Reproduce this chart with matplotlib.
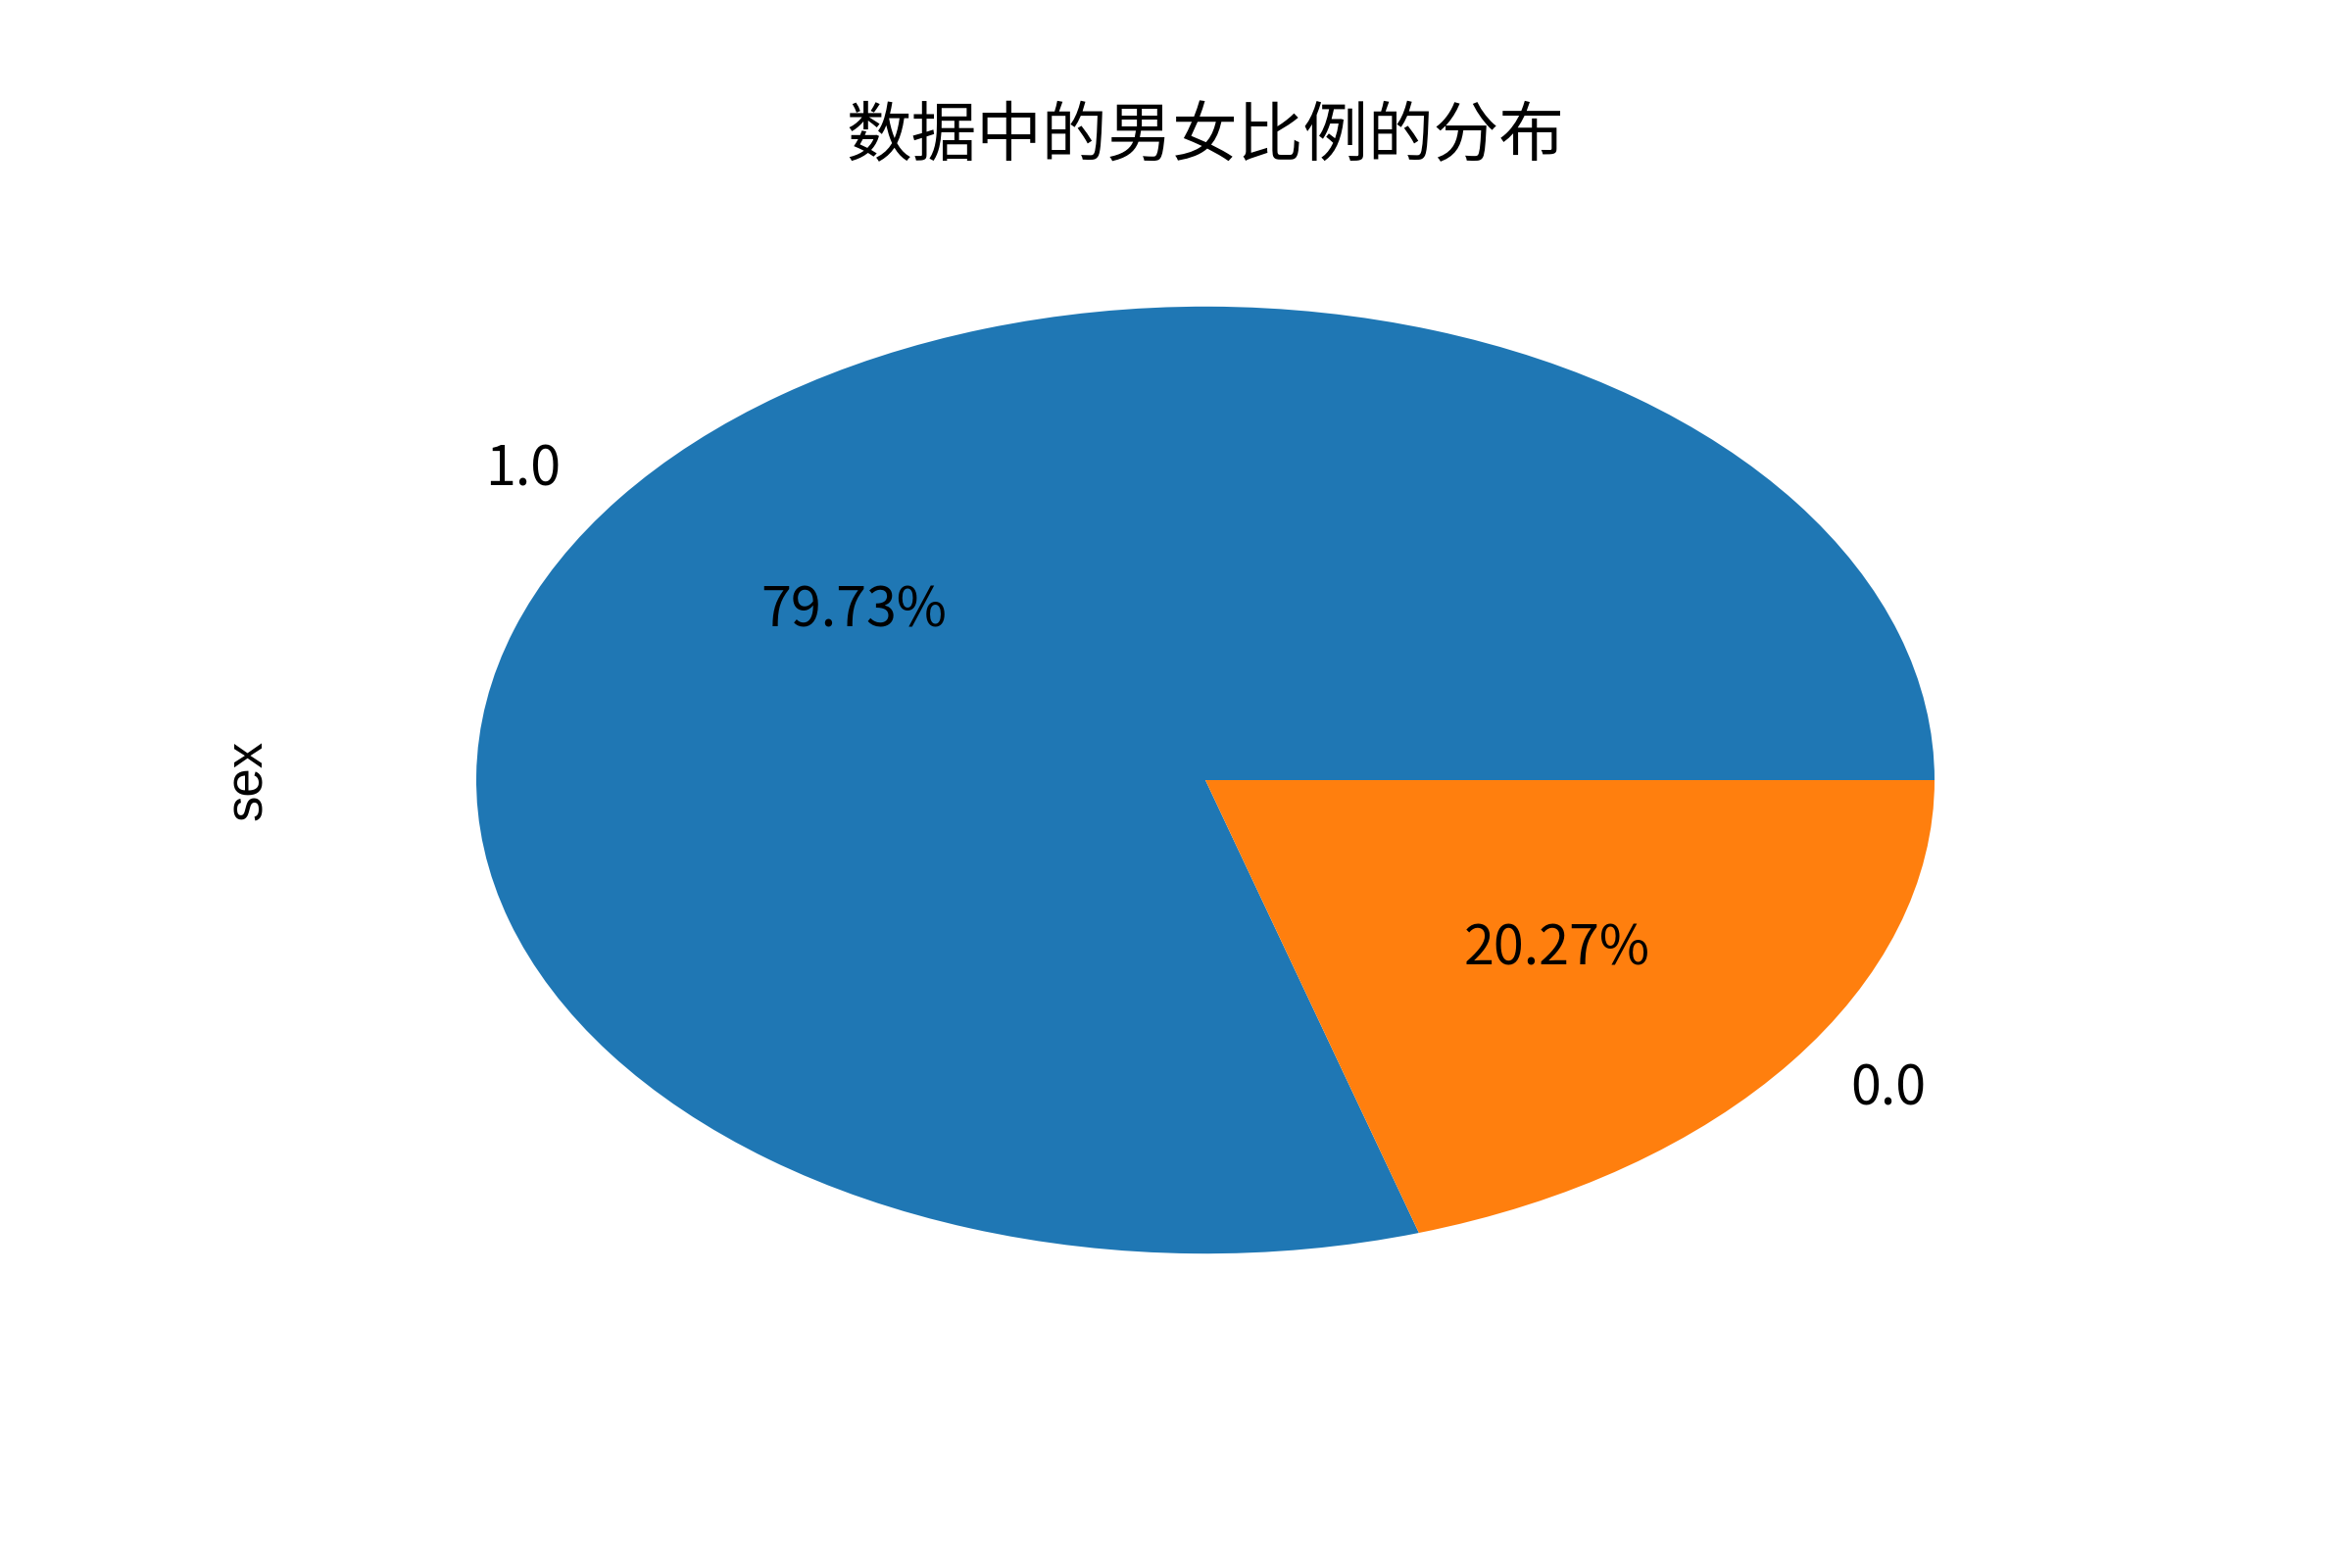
import matplotlib
matplotlib.use("Agg")
import matplotlib.pyplot as plt

plt.rcParams['font.family'] = ['Noto Sans CJK SC', 'DejaVu Sans']
plt.rcParams['axes.unicode_minus'] = False

# Datos del gráfico
etiquetas = ["1.0", "0.0"]
porcentajes = [79.73, 20.27]
titulo = "数据中的男女比例的分布"

fig, ax = plt.subplots(figsize=(6, 4), dpi=400)
fig.subplots_adjust(bottom=0.125, top=0.88)
ax.pie(porcentajes, labels=etiquetas, autopct='%.2f%%')
ax.set_aspect('auto')
ax.set_xlim(-1.25, 1.25)
ax.set_ylim(-1.25, 1.25)
ax.set_title(titulo)
ax.set_ylabel("sex", family='Liberation Sans', fontsize=9.5)

fig.savefig("out.png", dpi=400)
